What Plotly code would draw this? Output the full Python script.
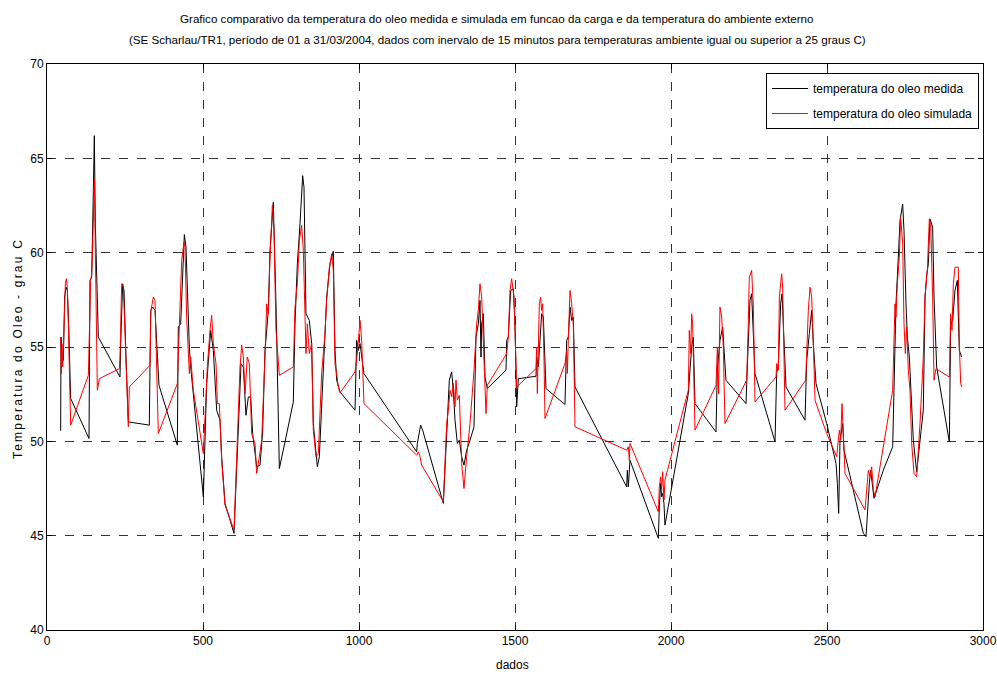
import plotly.graph_objects as go

# ---- data ----
medida_x = [43.8, 44.9, 48.1, 52.4, 56.6, 60.9, 65.2, 69.4, 75.9, 134.6, 137.8, 143.2, 148.5, 151.7, 154.9, 159.2,
            161.3, 164.5, 233.9, 236.1, 242.5, 246.8, 253.2, 260.7, 327.9, 332.3, 338.7, 346.2, 359.0, 417.7, 420.9,
            428.4, 440.2, 445.5, 456.2, 460.5, 501.1, 511.8, 524.6, 533.1, 543.8, 554.5, 559.8, 570.5, 599.4, 613.3,
            621.8, 629.3, 637.8, 645.3, 652.8, 659.2, 672.0, 682.7, 691.2, 698.7, 709.4, 714.8, 725.4, 734.0, 744.7,
            762.8, 789.5, 794.9, 802.4, 810.9, 819.4, 823.7, 830.1, 840.8, 848.3, 853.6, 866.5, 872.9, 885.7, 896.4,
            907.1, 917.7, 923.1, 928.4, 939.1, 987.2, 992.5, 997.9, 1003.2, 1008.5, 1016.0, 1184.8, 1187.0, 1197.6,
            1204.1, 1270.3, 1281.0, 1289.5, 1297.0, 1302.3, 1307.7, 1315.2, 1321.6, 1329.1, 1336.5, 1345.1, 1355.8,
            1368.6, 1375.0, 1382.5, 1387.8, 1391.0, 1393.2, 1398.5, 1403.8, 1411.3, 1471.2, 1473.3, 1478.6, 1486.1,
            1494.7, 1500.0, 1505.3, 1510.7, 1567.3, 1569.4, 1574.8, 1580.1, 1585.4, 1590.8, 1592.9, 1599.3, 1660.2,
            1665.6, 1670.9, 1676.3, 1681.6, 1686.9, 1692.3, 1857.9, 1860.0, 1863.2, 1868.6, 1959.4, 1962.6, 1966.8,
            1970.0, 1973.3, 1977.5, 1980.7, 2055.5, 2060.9, 2066.2, 2071.5, 2076.9, 2144.2, 2148.5, 2157.0, 2165.6,
            2176.2, 2240.4, 2244.6, 2253.2, 2258.5, 2269.2, 2333.4, 2338.7, 2344.1, 2351.5, 2355.8, 2362.2, 2368.6,
            2429.5, 2434.9, 2443.4, 2450.9, 2456.2, 2464.8, 2499.0, 2528.9, 2533.2, 2537.4, 2541.7, 2550.3, 2554.5,
            2584.5, 2616.5, 2625.1, 2629.3, 2635.7, 2640.0, 2648.5, 2650.6, 2680.5, 2710.5, 2714.7, 2721.1, 2728.6,
            2734.0, 2742.5, 2746.8, 2753.2, 2757.5, 2763.9, 2771.4, 2776.7, 2787.4, 2808.7, 2814.1, 2819.4, 2824.8,
            2830.1, 2838.7, 2843.0, 2851.5, 2892.1, 2896.4, 2902.8, 2910.2, 2917.7, 2924.1, 2931.6]
medida_y = [50.56, 55.53, 54.47, 54.29, 57.65, 58.17, 58.00, 56.23, 52.27, 50.15, 58.53, 58.70, 63.29, 66.20, 61.53,
            58.44, 56.23, 55.53, 53.41, 55.18, 58.35, 58.00, 54.47, 51.03, 50.86, 56.94, 57.12, 56.94, 52.97, 49.80,
            56.06, 56.23, 60.96, 60.29, 55.00, 53.94, 47.06, 53.06, 55.88, 54.82, 51.65, 51.12, 49.18, 46.71, 45.12,
            50.94, 54.12, 53.94, 51.38, 52.35, 52.35, 50.41, 48.65, 48.74, 50.50, 54.82, 56.94, 60.11, 62.67, 57.29,
            48.56, 49.97, 52.09, 56.23, 59.41, 61.53, 64.08, 63.47, 56.76, 56.41, 55.18, 50.94, 48.65, 49.18, 53.59,
            57.65, 59.41, 60.08, 54.82, 53.24, 52.62, 51.65, 55.35, 54.82, 55.18, 54.47, 53.59, 49.44, 49.89, 50.86,
            50.59, 46.71, 50.24, 53.24, 53.68, 52.71, 51.12, 49.89, 50.06, 49.18, 48.74, 49.53, 50.06, 50.77, 55.53,
            56.23, 57.47, 54.47, 56.23, 56.76, 53.41, 52.80, 53.77, 55.35, 55.53, 58.00, 58.09, 56.23, 51.83, 53.32,
            53.45, 54.47, 53.94, 55.71, 56.76, 56.59, 55.53, 52.80, 51.95, 55.35, 55.53, 57.12, 56.41, 56.59, 52.88,
            47.59, 48.47, 47.59, 49.00, 44.86, 46.53, 47.77, 47.06, 47.24, 46.71, 45.56, 52.53, 54.12, 55.00, 55.53,
            52.00, 50.50, 53.77, 55.35, 56.06, 53.24, 52.00, 53.94, 57.47, 57.82, 53.59, 49.97, 53.59, 54.12, 57.29,
            57.82, 55.35, 52.88, 51.12, 54.29, 55.71, 56.94, 55.18, 53.06, 50.94, 48.83, 47.77, 46.18, 50.06, 50.94,
            49.53, 47.42, 45.12, 44.95, 46.36, 47.77, 48.47, 47.24, 46.98, 48.47, 49.71, 52.71, 57.29, 59.76, 61.70,
            62.58, 61.17, 57.29, 55.53, 54.47, 51.83, 50.06, 48.39, 51.65, 57.65, 58.79, 59.41, 61.79, 61.35, 57.65,
            53.94, 49.97, 56.23, 56.41, 58.00, 58.53, 54.82, 54.47]

simulada_x = [43.8, 45.9, 48.1, 50.2, 52.3, 55.6, 58.8, 62.0, 65.2, 68.4, 71.6, 75.9, 132.5, 140.0, 143.2, 146.4,
              151.7, 154.9, 159.2, 161.3, 167.7, 231.8, 234.0, 239.3, 244.7, 248.9, 253.2, 260.7, 263.9, 330.1, 333.3,
              340.8, 346.2, 351.5, 356.8, 417.7, 424.1, 431.6, 439.1, 442.3, 447.6, 456.2, 460.5, 469.0, 501.1, 506.4,
              513.9, 522.4, 527.8, 533.1, 541.7, 546.0, 552.4, 559.8, 570.5, 599.4, 613.3, 618.6, 624.0, 629.3, 634.6,
              642.1, 648.5, 656.0, 666.7, 672.0, 680.6, 688.0, 698.7, 704.1, 709.4, 714.8, 722.2, 727.6, 734.0, 744.7,
              789.5, 794.9, 802.4, 808.8, 816.2, 821.6, 830.1, 834.4, 840.8, 848.3, 853.6, 862.2, 869.7, 880.3, 891.0,
              896.4, 904.9, 912.4, 917.7, 923.1, 928.4, 933.8, 939.1, 987.2, 994.7, 1003.2, 1008.5, 1016.0, 1184.8,
              1190.2, 1195.5, 1200.8, 1270.3, 1281.0, 1286.3, 1291.7, 1297.0, 1302.3, 1307.7, 1310.9, 1315.2, 1321.6,
              1329.1, 1336.5, 1345.1, 1355.8, 1368.6, 1377.1, 1382.5, 1387.8, 1393.2, 1398.5, 1403.8, 1407.1, 1411.3,
              1473.3, 1478.6, 1484.0, 1489.3, 1496.8, 1500.0, 1505.3, 1567.3, 1569.4, 1571.6, 1574.8, 1578.0, 1582.2,
              1585.4, 1588.7, 1590.8, 1592.9, 1596.1, 1660.2, 1665.6, 1667.7, 1670.9, 1676.3, 1681.6, 1686.9, 1692.3,
              1857.9, 1863.2, 1866.4, 1868.6, 1959.4, 1962.6, 1966.8, 1970.0, 1973.3, 1977.5, 1980.7, 2055.5, 2058.7,
              2063.0, 2066.2, 2069.4, 2071.5, 2076.9, 2144.2, 2148.5, 2152.7, 2157.0, 2162.4, 2167.7, 2173.0, 2242.5,
              2247.8, 2251.0, 2258.5, 2263.9, 2269.2, 2336.6, 2338.7, 2344.1, 2347.3, 2351.5, 2354.7, 2358.0, 2362.2,
              2365.4, 2431.7, 2434.9, 2440.2, 2445.6, 2450.9, 2456.2, 2461.6, 2499.0, 2531.0, 2539.6, 2543.9, 2548.1,
              2552.4, 2557.7, 2621.8, 2627.2, 2632.5, 2637.9, 2643.2, 2648.6, 2653.9, 2710.5, 2717.9, 2721.1, 2725.4,
              2731.8, 2736.1, 2742.5, 2746.8, 2751.1, 2755.3, 2760.7, 2766.0, 2771.4, 2778.8, 2787.4, 2798.1, 2808.7,
              2814.1, 2821.6, 2828.0, 2832.3, 2838.7, 2843.0, 2849.3, 2892.1, 2896.4, 2900.7, 2904.9, 2910.2, 2920.9,
              2924.1, 2928.4, 2932.7]
simulada_y = [55.53, 53.59, 55.18, 53.94, 54.82, 57.65, 58.35, 58.62, 58.17, 56.23, 53.59, 50.86, 53.50, 58.53, 58.88,
              60.29, 63.91, 59.76, 55.53, 52.71, 53.32, 53.85, 54.47, 58.35, 58.17, 56.23, 53.59, 50.77, 52.88, 54.03,
              56.94, 57.65, 57.47, 54.47, 50.41, 53.06, 55.88, 59.59, 60.56, 60.29, 56.59, 53.59, 54.47, 52.71, 49.35,
              51.47, 53.94, 55.88, 56.68, 55.18, 54.12, 52.00, 52.00, 49.00, 46.62, 45.30, 51.30, 53.94, 55.09, 54.47,
              52.53, 54.47, 54.12, 50.41, 49.89, 48.30, 49.18, 50.06, 54.47, 57.29, 56.76, 59.76, 62.50, 61.17, 55.88,
              53.50, 53.94, 57.12, 58.35, 60.64, 61.44, 60.11, 54.65, 56.23, 54.65, 55.18, 50.59, 49.18, 49.35, 53.59,
              55.71, 57.47, 59.23, 59.94, 59.06, 54.12, 53.59, 52.88, 52.57, 53.68, 54.65, 56.41, 55.35, 52.00, 49.27,
              49.44, 49.18, 48.74, 46.80, 50.94, 51.65, 52.71, 52.35, 53.06, 51.83, 53.24, 52.18, 52.44, 48.83, 47.50,
              49.18, 50.94, 53.77, 56.23, 56.94, 58.35, 57.65, 55.18, 52.00, 51.47, 52.97, 54.65, 55.53, 58.00, 58.62,
              57.65, 55.88, 52.88, 53.85, 55.00, 52.53, 56.23, 57.29, 57.65, 56.94, 57.29, 56.23, 54.47, 51.21, 54.12,
              54.82, 53.59, 55.35, 58.00, 57.29, 56.23, 50.77, 49.53, 49.71, 49.00, 49.89, 46.27, 47.59, 48.12, 47.42,
              48.39, 46.89, 47.95, 52.71, 55.88, 54.65, 56.76, 56.23, 54.82, 50.59, 52.97, 55.00, 52.53, 57.12, 56.59,
              55.00, 50.94, 53.24, 56.23, 58.70, 59.06, 57.12, 52.09, 53.41, 54.12, 53.77, 57.65, 58.35, 58.88, 58.17,
              54.82, 51.65, 53.24, 54.65, 56.94, 58.17, 57.65, 55.18, 52.18, 50.41, 49.18, 50.59, 50.06, 52.00, 49.89,
              48.30, 46.36, 47.42, 48.47, 48.12, 48.65, 47.42, 47.06, 52.71, 57.29, 56.59, 58.35, 59.76, 61.88, 60.47,
              56.23, 54.65, 56.06, 53.77, 52.71, 49.89, 48.30, 48.12, 50.94, 54.47, 57.65, 59.06, 61.79, 61.53, 57.65,
              53.24, 53.85, 53.41, 56.76, 55.88, 58.35, 59.23, 59.23, 55.18, 53.06, 52.88]

x_ticks = [0, 500, 1000, 1500, 2000, 2500, 3000]
y_ticks = [40, 45, 50, 55, 60, 65, 70]

title_line1 = "Grafico comparativo da temperatura do oleo medida e simulada em funcao da carga e da temperatura do ambiente externo"
title_line2 = "(SE Scharlau/TR1, período de 01 a 31/03/2004, dados com inervalo de 15 minutos para temperaturas ambiente igual ou superior a 25 graus C)"
y_label = "Temperatura do Oleo - grau C"
x_label = "dados"

FONT = "Liberation Sans, Arial, sans-serif"

# figure geometry (pixels)
W, H = 997, 674
ML, MR, MT, MB = 47, 14, 64, 44
PW, PH = W - ML - MR, H - MT - MB

fig = go.Figure()
fig.add_trace(go.Scatter(x=medida_x, y=medida_y, mode="lines", name="temperatura do oleo medida",
                         legendgroup="a", line=dict(color="#000000", width=1)))
fig.add_trace(go.Scatter(x=simulada_x, y=simulada_y, mode="lines", name="temperatura do oleo simulada",
                         legendgroup="b", line=dict(color="#ff0000", width=1)))

axis_common = dict(showline=True, linecolor="black", linewidth=1, mirror="allticks",
                   ticks="inside", ticklen=5, tickcolor="black", automargin=False,
                   showgrid=True, gridcolor="#333333", griddash="dash", gridwidth=1,
                   zeroline=False, tickfont=dict(family=FONT, size=12, color="black"))

fig.update_xaxes(range=[0, 3000], tickvals=x_ticks, ticktext=[str(v) for v in x_ticks],
                 **axis_common)
fig.update_yaxes(range=[40, 70], tickvals=y_ticks, ticktext=[str(v) for v in y_ticks],
                 **axis_common)

def px_x(p):
    return (p - ML) / PW

def px_y(p):
    return 1 - (p - MT) / PH

# titles and axis labels as text annotations placed in paper coordinates
fig.add_annotation(text=title_line1, x=px_x(497), y=px_y(18), xref="paper", yref="paper",
                   showarrow=False, xanchor="center", yanchor="middle",
                   font=dict(family=FONT, size=11.6, color="black"))
fig.add_annotation(text=title_line2, x=px_x(497), y=px_y(40), xref="paper", yref="paper",
                   showarrow=False, xanchor="center", yanchor="middle",
                   font=dict(family=FONT, size=11.6, color="black"))
fig.add_annotation(text='<span style="letter-spacing:2.2px">' + y_label + '</span>',
                   x=px_x(18), y=px_y(349), xref="paper", yref="paper", textangle=-90,
                   showarrow=False, xanchor="center", yanchor="middle",
                   font=dict(family=FONT, size=12, color="black"))
fig.add_annotation(text=x_label, x=px_x(512), y=px_y(665), xref="paper", yref="paper",
                   showarrow=False, xanchor="center", yanchor="middle",
                   font=dict(family=FONT, size=12, color="black"))

fig.update_layout(
    width=W, height=H,
    margin=dict(l=ML, r=MR, t=MT, b=MB, autoexpand=False),
    paper_bgcolor="white", plot_bgcolor="white",
    showlegend=True,
    legend=dict(x=px_x(979), y=px_y(73), xanchor="right", yanchor="top",
                bgcolor="white", bordercolor="black", borderwidth=1,
                tracegroupgap=6, itemwidth=36,
                font=dict(family=FONT, size=12, color="black")),
)

# remove the default page margin so the figure sits at the window's top-left corner
fig.write_html("out.html", config={"displayModeBar": False},
               post_script="document.body.style.margin='0px';")
